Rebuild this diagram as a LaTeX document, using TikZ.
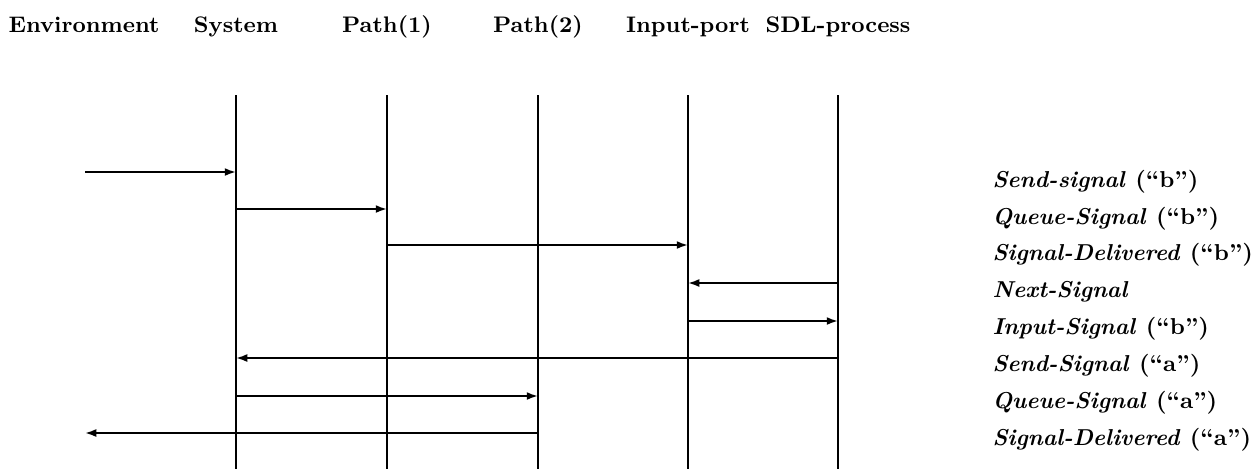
\documentclass[tikz,border=0pt]{standalone}
\usetikzlibrary{arrows.meta}
\begin{document}
\begin{tikzpicture}[x=0.4pt,y=-0.4pt,
  head/.style={font=\fontsize{9}{11}\selectfont\bfseries, anchor=base, inner sep=0pt},
  lbl/.style={font=\fontsize{9.2}{11}\selectfont\bfseries, anchor=base west, inner sep=0pt},
  life/.style={line width=0.8pt},
  msg/.style={line width=0.8pt, -{Latex[length=4.5pt,width=3.2pt]}}]
\useasboundingbox (0,0) rectangle (1259,469);

% column headings
\node[head] (env)  at (84,32)  {Environment};
\node[head] (sys)  at (236,32) {System};
\node[head] (p1)   at (387,32) {Path(1)};
\node[head] (p2)   at (538,32) {Path(2)};
\node[head] (inp)  at (688,32) {Input-port};
\node[head] (sdl)  at (838,32) {SDL-process};

% lifelines
\foreach \n/\x in {sys/236, p1/387, p2/538, inp/688, sdl/838}{
  \coordinate (\n T) at (\x,95);
  \coordinate (\n B) at (\x,469);
  \draw[life] (\n T) -- (\n B);
}

% environment ends of the outer messages
\coordinate (envIn)  at (85,172);
\coordinate (envOut) at (85,433);

% message rows
\coordinate (r1) at (0,172);
\coordinate (r2) at (0,209);
\coordinate (r3) at (0,245);
\coordinate (r4) at (0,283);
\coordinate (r5) at (0,321);
\coordinate (r6) at (0,358);
\coordinate (r7) at (0,396);
\coordinate (r8) at (0,433);

\draw[msg] (envIn) -- (sysT |- r1);
\draw[msg] (sysT |- r2) -- (p1T |- r2);
\draw[msg] (p1T |- r3) -- (inpT |- r3);
\draw[msg] (sdlT |- r4) -- (inpT |- r4);
\draw[msg] (inpT |- r5) -- (sdlT |- r5);
\draw[msg] (sdlT |- r6) -- (sysT |- r6);
\draw[msg] (sysT |- r7) -- (p2T |- r7);
\draw[msg] (p2T |- r8) -- (envOut);

% event names
\node[lbl] (l1) at (992,187) {\itshape Send-signal\/ \upshape(``b'')};
\node[lbl] (l2) at (992,224) {\itshape Queue-Signal\/ \upshape(``b'')};
\node[lbl] (l3) at (992,260) {\itshape Signal-Delivered\/ \upshape(``b'')};
\node[lbl] (l4) at (992,297) {\itshape Next-Signal};
\node[lbl] (l5) at (992,334) {\itshape Input-Signal\/ \upshape(``b'')};
\node[lbl] (l6) at (992,371) {\itshape Send-Signal\/ \upshape(``a'')};
\node[lbl] (l7) at (992,408) {\itshape Queue-Signal\/ \upshape(``a'')};
\node[lbl] (l8) at (992,445) {\itshape Signal-Delivered\/ \upshape(``a'')};
\end{tikzpicture}
\end{document}
